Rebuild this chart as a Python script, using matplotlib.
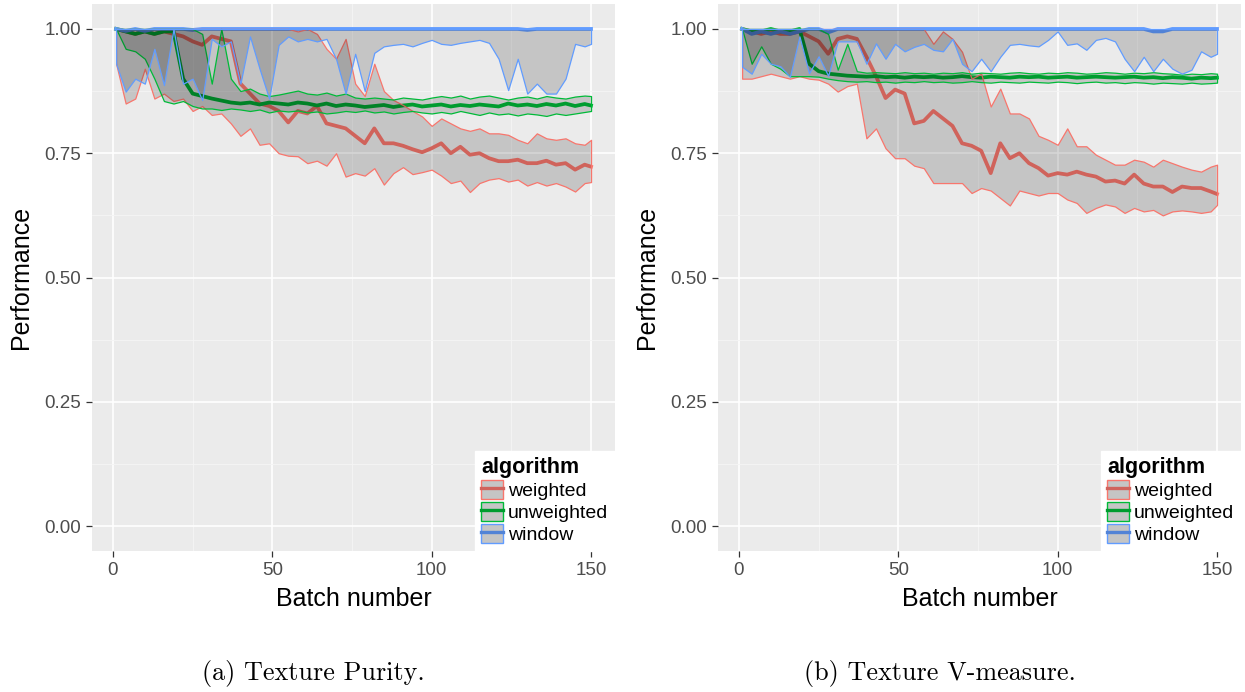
import numpy as np
import matplotlib.pyplot as plt
from matplotlib.patches import Patch
from matplotlib.lines import Line2D

plt.rcParams['font.family'] = ['Liberation Sans', 'DejaVu Sans']

# batch numbers the curves are read at
batch = [1, 4, 7, 10, 13, 16, 19, 22, 25, 28,
         31, 34, 37, 40, 43, 46, 49, 52, 55, 58,
         61, 64, 67, 70, 73, 76, 79, 82, 85, 88,
         91, 94, 97, 100, 103, 106, 109, 112, 115, 118,
         121, 124, 127, 130, 133, 136, 139, 142, 145, 148,
         150]

algorithms = ['weighted', 'unweighted', 'window']

# ---- (a) Texture Purity ----
pur_weighted_hi = [1.00, 1.00, 1.00, 1.00, 1.00, 1.00, 1.00, 1.00, 1.00, 1.00,
                   1.00, 1.00, 1.00, 1.00, 1.00, 1.00, 1.00, 1.00, 1.00, 0.995,
                   1.00, 0.99, 0.96, 0.94, 0.98, 0.89, 0.865, 0.93, 0.875, 0.857,
                   0.847, 0.835, 0.824, 0.805, 0.82, 0.81, 0.80, 0.795, 0.80, 0.79,
                   0.79, 0.787, 0.777, 0.77, 0.79, 0.78, 0.777, 0.78, 0.77, 0.767,
                   0.777]
pur_weighted_mean = [1.00, 0.995, 0.99, 0.995, 0.99, 0.995, 0.99, 0.985, 0.975, 0.968,
                     0.985, 0.98, 0.975, 0.89, 0.87, 0.85, 0.845, 0.835, 0.812, 0.835,
                     0.83, 0.845, 0.81, 0.805, 0.80, 0.785, 0.77, 0.80, 0.77, 0.77,
                     0.765, 0.758, 0.752, 0.76, 0.77, 0.75, 0.763, 0.747, 0.75, 0.74,
                     0.734, 0.734, 0.737, 0.73, 0.73, 0.735, 0.727, 0.73, 0.717, 0.727,
                     0.723]
pur_weighted_lo = [0.93, 0.85, 0.86, 0.92, 0.86, 0.87, 0.855, 0.86, 0.835, 0.845,
                   0.827, 0.83, 0.81, 0.785, 0.80, 0.767, 0.77, 0.75, 0.745, 0.744,
                   0.73, 0.735, 0.725, 0.75, 0.703, 0.71, 0.705, 0.72, 0.687, 0.71,
                   0.722, 0.708, 0.712, 0.717, 0.705, 0.69, 0.695, 0.672, 0.69, 0.697,
                   0.70, 0.693, 0.697, 0.685, 0.692, 0.685, 0.69, 0.683, 0.673, 0.69,
                   0.692]

pur_unweighted_hi = [1.00, 1.00, 1.00, 1.00, 1.00, 1.00, 1.00, 1.00, 1.00, 0.99,
                     0.89, 1.00, 0.90, 0.875, 0.88, 0.87, 0.865, 0.868, 0.872, 0.876,
                     0.87, 0.868, 0.872, 0.866, 0.87, 0.862, 0.86, 0.862, 0.86, 0.858,
                     0.862, 0.86, 0.858, 0.862, 0.865, 0.862, 0.866, 0.86, 0.864, 0.866,
                     0.862, 0.858, 0.862, 0.864, 0.86, 0.865, 0.862, 0.86, 0.864, 0.866,
                     0.865]
pur_unweighted_mean = [1.00, 0.995, 0.99, 0.995, 0.99, 0.995, 0.995, 0.90, 0.87, 0.865,
                       0.86, 0.856, 0.852, 0.85, 0.852, 0.848, 0.852, 0.85, 0.848, 0.852,
                       0.85, 0.846, 0.85, 0.845, 0.848, 0.846, 0.843, 0.845, 0.847, 0.843,
                       0.846, 0.848, 0.844, 0.846, 0.848, 0.844, 0.847, 0.845, 0.848, 0.846,
                       0.844, 0.85, 0.846, 0.848, 0.845, 0.849, 0.846, 0.85, 0.845, 0.849,
                       0.846]
pur_unweighted_lo = [1.00, 0.96, 0.955, 0.94, 0.90, 0.855, 0.85, 0.855, 0.845, 0.84,
                     0.84, 0.837, 0.84, 0.838, 0.835, 0.838, 0.832, 0.836, 0.834, 0.836,
                     0.832, 0.834, 0.83, 0.832, 0.835, 0.833, 0.836, 0.832, 0.834, 0.83,
                     0.833, 0.835, 0.832, 0.83, 0.833, 0.83, 0.835, 0.831, 0.827, 0.832,
                     0.828, 0.83, 0.826, 0.83, 0.828, 0.825, 0.83, 0.827, 0.83, 0.833,
                     0.835]

pur_window_hi = [1.00, 1.00, 1.00, 1.00, 1.00, 1.00, 1.00, 1.00, 1.00, 1.00,
                 1.00, 1.00, 1.00, 1.00, 1.00, 1.00, 1.00, 1.00, 1.00, 1.00,
                 1.00, 1.00, 1.00, 1.00, 1.00, 1.00, 1.00, 1.00, 1.00, 1.00,
                 1.00, 1.00, 1.00, 1.00, 1.00, 1.00, 1.00, 1.00, 1.00, 1.00,
                 1.00, 1.00, 1.00, 1.00, 1.00, 1.00, 1.00, 1.00, 1.00, 1.00,
                 1.00]
pur_window_mean = [1.00, 0.996, 1.00, 0.996, 1.00, 1.00, 1.00, 1.00, 0.998, 1.00,
                   1.00, 1.00, 1.00, 1.00, 1.00, 1.00, 1.00, 1.00, 1.00, 1.00,
                   1.00, 1.00, 1.00, 1.00, 1.00, 1.00, 1.00, 1.00, 1.00, 1.00,
                   1.00, 1.00, 1.00, 1.00, 1.00, 1.00, 1.00, 1.00, 1.00, 1.00,
                   1.00, 1.00, 1.00, 0.998, 1.00, 1.00, 1.00, 1.00, 1.00, 1.00,
                   1.00]
pur_window_lo = [0.93, 0.874, 0.90, 0.89, 0.96, 0.887, 1.00, 0.89, 0.90, 0.857,
                 0.98, 0.965, 0.975, 0.89, 0.985, 0.92, 0.86, 0.968, 0.985, 0.975,
                 0.98, 0.975, 0.98, 0.94, 0.87, 0.95, 0.875, 0.952, 0.965, 0.968,
                 0.97, 0.965, 0.972, 0.978, 0.97, 0.968, 0.972, 0.975, 0.978, 0.972,
                 0.94, 0.877, 0.94, 0.87, 0.89, 0.87, 0.87, 0.90, 0.97, 0.965,
                 0.97]

# ---- (b) Texture V-measure ----
vm_weighted_hi = [1.00, 1.00, 1.00, 1.00, 1.00, 1.00, 1.00, 1.00, 1.00, 1.00,
                  1.00, 1.00, 1.00, 1.00, 1.00, 1.00, 1.00, 1.00, 1.00, 1.00,
                  0.97, 0.995, 0.98, 0.954, 0.90, 0.91, 0.844, 0.88, 0.83, 0.83,
                  0.82, 0.785, 0.777, 0.767, 0.80, 0.764, 0.764, 0.747, 0.737, 0.727,
                  0.727, 0.737, 0.733, 0.723, 0.737, 0.73, 0.723, 0.717, 0.713, 0.723,
                  0.727]
vm_weighted_mean = [1.00, 0.995, 0.99, 0.995, 0.99, 0.99, 0.995, 0.985, 0.975, 0.95,
                    0.98, 0.985, 0.98, 0.944, 0.905, 0.861, 0.878, 0.87, 0.81, 0.815,
                    0.835, 0.82, 0.805, 0.77, 0.765, 0.755, 0.71, 0.77, 0.74, 0.75,
                    0.73, 0.72, 0.705, 0.71, 0.707, 0.713, 0.707, 0.703, 0.693, 0.695,
                    0.689, 0.707, 0.689, 0.683, 0.683, 0.672, 0.683, 0.68, 0.68, 0.673,
                    0.668]
vm_weighted_lo = [0.90, 0.90, 0.905, 0.91, 0.905, 0.90, 0.905, 0.90, 0.898, 0.89,
                  0.874, 0.885, 0.89, 0.78, 0.80, 0.76, 0.74, 0.74, 0.725, 0.72,
                  0.69, 0.69, 0.69, 0.69, 0.67, 0.68, 0.675, 0.66, 0.645, 0.675,
                  0.67, 0.665, 0.67, 0.67, 0.657, 0.65, 0.63, 0.64, 0.647, 0.643,
                  0.63, 0.64, 0.633, 0.636, 0.625, 0.633, 0.635, 0.633, 0.63, 0.633,
                  0.646]

vm_unweighted_hi = [1.00, 1.00, 1.00, 1.00, 1.00, 1.00, 1.00, 1.00, 1.00, 0.99,
                    0.918, 0.97, 0.915, 0.912, 0.913, 0.912, 0.911, 0.913, 0.911, 0.912,
                    0.91, 0.912, 0.911, 0.913, 0.91, 0.912, 0.911, 0.91, 0.912, 0.913,
                    0.911, 0.91, 0.912, 0.911, 0.913, 0.912, 0.91, 0.911, 0.913, 0.912,
                    0.91, 0.912, 0.911, 0.913, 0.911, 0.91, 0.908, 0.91, 0.909, 0.911,
                    0.91]
vm_unweighted_mean = [1.00, 0.995, 0.995, 1.00, 0.995, 0.995, 1.00, 0.93, 0.915, 0.91,
                      0.908, 0.906, 0.905, 0.904, 0.905, 0.903, 0.904, 0.902, 0.904, 0.903,
                      0.904, 0.902, 0.903, 0.905, 0.903, 0.902, 0.904, 0.903, 0.902, 0.904,
                      0.903, 0.904, 0.902, 0.903, 0.904, 0.902, 0.903, 0.904, 0.903, 0.902,
                      0.903, 0.904, 0.902, 0.903, 0.901, 0.903, 0.902, 0.90, 0.902, 0.901,
                      0.902]
vm_unweighted_lo = [1.00, 0.93, 0.965, 0.93, 0.92, 0.905, 0.905, 0.905, 0.904, 0.90,
                    0.897, 0.895, 0.894, 0.895, 0.893, 0.894, 0.892, 0.894, 0.893, 0.895,
                    0.893, 0.894, 0.892, 0.893, 0.895, 0.893, 0.892, 0.894, 0.893, 0.892,
                    0.894, 0.893, 0.892, 0.894, 0.893, 0.891, 0.893, 0.894, 0.892, 0.893,
                    0.891, 0.893, 0.892, 0.89, 0.892, 0.891, 0.89, 0.892, 0.89, 0.891,
                    0.892]

vm_window_hi = [1.00, 1.00, 1.00, 1.00, 1.00, 1.00, 1.00, 1.00, 1.00, 1.00,
                1.00, 1.00, 1.00, 1.00, 1.00, 1.00, 1.00, 1.00, 1.00, 1.00,
                1.00, 1.00, 1.00, 1.00, 1.00, 1.00, 1.00, 1.00, 1.00, 1.00,
                1.00, 1.00, 1.00, 1.00, 1.00, 1.00, 1.00, 1.00, 1.00, 1.00,
                1.00, 1.00, 1.00, 1.00, 1.00, 1.00, 1.00, 1.00, 1.00, 1.00,
                1.00]
vm_window_mean = [1.00, 0.99, 0.995, 0.99, 0.995, 0.99, 0.995, 1.00, 1.00, 0.993,
                  1.00, 1.00, 1.00, 1.00, 1.00, 1.00, 1.00, 1.00, 1.00, 1.00,
                  1.00, 1.00, 1.00, 1.00, 1.00, 1.00, 1.00, 1.00, 1.00, 1.00,
                  1.00, 1.00, 1.00, 1.00, 1.00, 1.00, 1.00, 1.00, 1.00, 1.00,
                  1.00, 1.00, 1.00, 0.995, 0.995, 1.00, 1.00, 1.00, 1.00, 1.00,
                  1.00]
vm_window_lo = [0.924, 0.91, 0.95, 0.93, 0.925, 0.904, 0.985, 0.911, 0.945, 0.906,
                0.975, 0.975, 0.975, 0.93, 0.971, 0.94, 0.97, 0.955, 0.964, 0.97,
                0.958, 0.955, 0.98, 0.93, 0.915, 0.94, 0.915, 0.944, 0.968, 0.97,
                0.967, 0.965, 0.978, 0.995, 0.968, 0.971, 0.958, 0.978, 0.982, 0.975,
                0.94, 0.915, 0.944, 0.915, 0.94, 0.92, 0.91, 0.918, 0.955, 0.944,
                0.95]

colors = {'weighted': '#F8766D', 'unweighted': '#00BA38', 'window': '#619CFF'}
key_line = {'weighted': '#D0635C', 'unweighted': '#009C2F', 'window': '#5283D6'}
ribbon_fill = (0, 0, 0, 0.16)

purity = {
    'weighted': (pur_weighted_lo, pur_weighted_mean, pur_weighted_hi),
    'unweighted': (pur_unweighted_lo, pur_unweighted_mean, pur_unweighted_hi),
    'window': (pur_window_lo, pur_window_mean, pur_window_hi),
}
vmeasure = {
    'weighted': (vm_weighted_lo, vm_weighted_mean, vm_weighted_hi),
    'unweighted': (vm_unweighted_lo, vm_unweighted_mean, vm_unweighted_hi),
    'window': (vm_window_lo, vm_window_mean, vm_window_hi),
}


def draw_panel(ax, data):
    ax.set_facecolor('#EBEBEB')
    # mean lines first, ribbons drawn on top of them (as in the ggplot original)
    for name in algorithms:
        lo, mean, hi = data[name]
        ax.plot(batch, mean, color=colors[name], lw=2.7, zorder=2)
    for name in algorithms:
        lo, mean, hi = data[name]
        ax.fill_between(batch, lo, hi, facecolor=ribbon_fill,
                        edgecolor=colors[name], linewidth=0.9, zorder=3)

    ax.set_xlim(-6.45, 157.45)
    ax.set_ylim(-0.05, 1.05)
    ax.set_xticks([0, 50, 100, 150])
    ax.set_xticks([25, 75, 125], minor=True)
    ax.set_yticks([0, 0.25, 0.5, 0.75, 1.0])
    ax.set_yticklabels(['0.00', '0.25', '0.50', '0.75', '1.00'])
    ax.set_yticks([0.125, 0.375, 0.625, 0.875], minor=True)
    ax.set_axisbelow(True)
    ax.grid(which='major', color='white', lw=1.2)
    ax.grid(which='minor', color='#F5F5F5', lw=0.6)
    for s in ax.spines.values():
        s.set_visible(False)
    ax.tick_params(which='major', length=4, width=0.9, color='#333333',
                   labelcolor='#4D4D4D', labelsize=13.5, pad=4)
    ax.tick_params(which='minor', length=0)
    ax.set_xlabel('Batch number', fontsize=18, labelpad=6)
    ax.set_ylabel('Performance', fontsize=18, labelpad=8)

    handles = [(Patch(facecolor='#C5C5C5', edgecolor=colors[n], lw=1.0),
                Line2D([], [], color=key_line[n], lw=2.4)) for n in algorithms]
    leg = ax.legend(handles, algorithms, loc='lower right', borderaxespad=0,
                    title='algorithm', fontsize=14, alignment='left',
                    title_fontproperties={'weight': 'bold', 'size': 15.5},
                    frameon=True, fancybox=False, framealpha=1,
                    handlelength=1.1, handleheight=1.1, handletextpad=0.25,
                    labelspacing=0.1, borderpad=0.35)
    leg.get_frame().set_facecolor('white')
    leg.get_frame().set_edgecolor('white')
    leg.set_zorder(5)


fig = plt.figure(figsize=(12.45, 6.92), dpi=100)
ax1 = fig.add_axes([0.0742, 0.2038, 0.4196, 0.7903])
ax2 = fig.add_axes([0.577, 0.2038, 0.4196, 0.7903])

draw_panel(ax1, purity)
draw_panel(ax2, vmeasure)

fig.text(0.2514, 0.027, '(a) Texture Purity.', ha='center', va='center',
         family='cmr10', fontsize=18.8)
fig.text(0.755, 0.027, '(b) Texture V-measure.', ha='center', va='center',
         family='cmr10', fontsize=18.8)

fig.savefig('out.png', dpi=100)
